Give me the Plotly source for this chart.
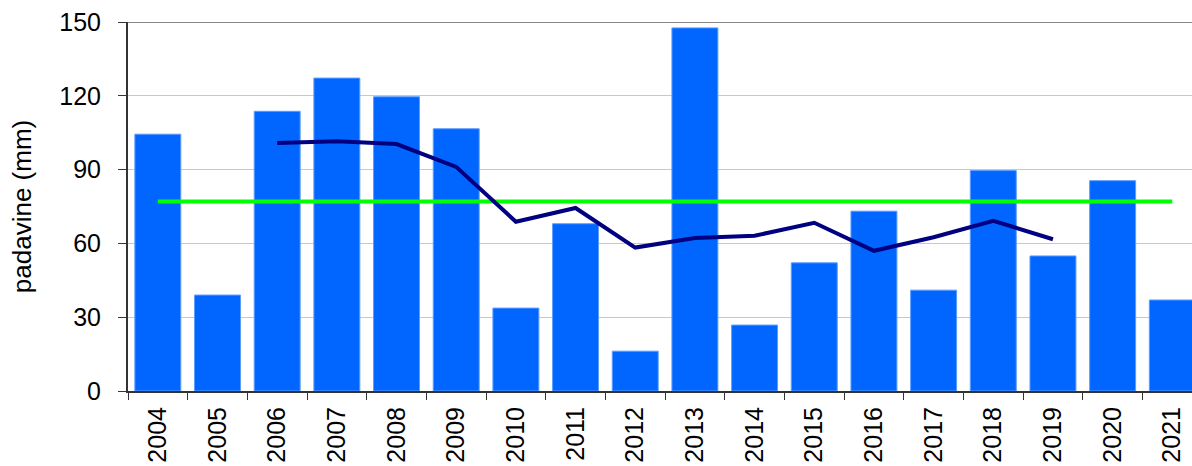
import plotly.graph_objects as go

years = [str(y) for y in range(2004, 2022)]
precip = [104.4, 39.0, 113.7, 127.2, 119.6, 106.6, 33.7, 68.0, 16.2,
          147.6, 26.8, 52.1, 73.1, 41.0, 89.6, 54.9, 85.5, 37.0]

ma_years = [str(y) for y in range(2006, 2020)]
moving_avg = [100.8, 101.5, 100.4, 91.1, 68.8, 74.4, 58.3, 62.2, 63.1,
              68.4, 57.0, 62.5, 69.2, 61.7]

mean_level = 77.0

font_family = "Liberation Sans, Arial, sans-serif"

fig = go.Figure()
fig.add_trace(go.Bar(
    x=years, y=precip,
    marker=dict(color="#0066ff", line=dict(color="#5c9dff", width=1)),
    showlegend=False,
))
fig.add_trace(go.Scatter(
    x=years, y=[mean_level] * len(years), mode="lines",
    line=dict(color="#00ff00", width=4), showlegend=False,
))
fig.add_trace(go.Scatter(
    x=ma_years, y=moving_avg, mode="lines",
    line=dict(color="#000080", width=4), showlegend=False,
))

fig.update_layout(
    width=1192, height=466,
    margin=dict(l=128, r=0, t=22, b=75),
    paper_bgcolor="white", plot_bgcolor="white",
    bargap=0.23,
    font=dict(family=font_family, size=25, color="black"),
    xaxis=dict(
        type="category", range=[-0.5, 17.33],
        tickson="boundaries", ticks="outside", ticklen=7, tickwidth=1,
        tickcolor="#333333", tickangle=-90, ticklabelstandoff=4,
        showline=True, linecolor="#333333", linewidth=2,
        showgrid=False, tickfont=dict(size=25),
    ),
    yaxis=dict(
        range=[0, 150], tickvals=[0, 30, 60, 90, 120, 150],
        ticks="outside", ticklen=8, tickwidth=1, tickcolor="#333333",
        showline=True, linecolor="#333333", linewidth=2,
        showgrid=True, gridcolor="#c8c8c8", gridwidth=1,
        zeroline=False, tickfont=dict(size=25), ticklabelstandoff=12,
        title=dict(text="padavine (mm)", font=dict(size=26), standoff=20),
    ),
    shapes=[dict(type="line", xref="paper", yref="y", x0=0, x1=1,
                 y0=150, y1=150, line=dict(color="#888888", width=2))],
)

fig.write_html("out.html")
